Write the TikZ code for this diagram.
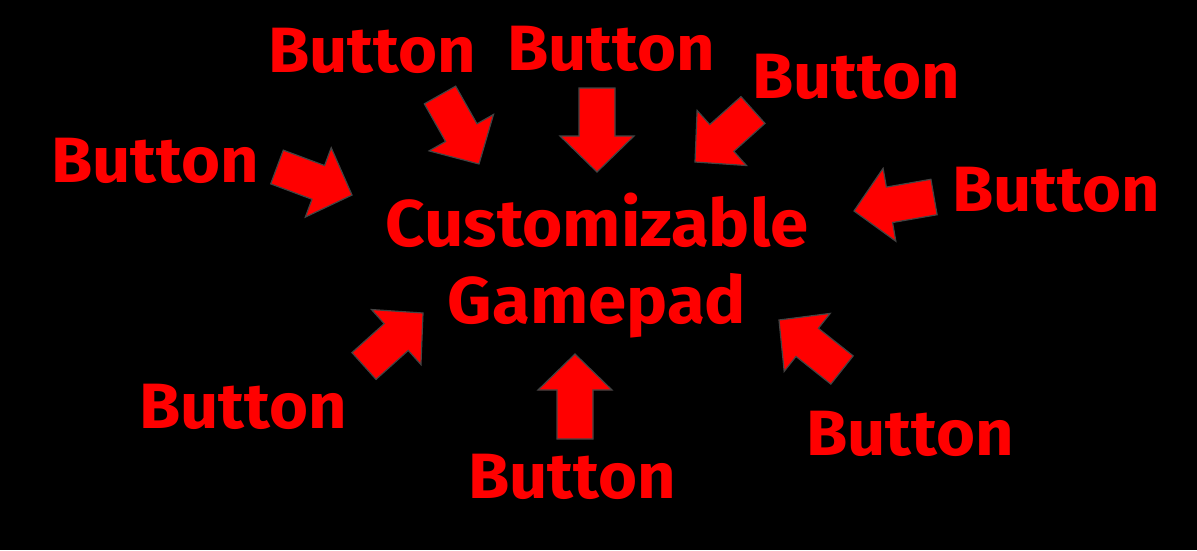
\documentclass[tikz,border=0pt]{standalone}
\usepackage{fontspec}
\setmainfont[FakeStretch=1.045]{Fira Sans}
\usetikzlibrary{calc}

% block arrow from tail coordinate #1 to tip coordinate #2
\newcommand\padarrow[2]{%
  \coordinate (#1-b) at ($(#2)!36pt!(#1)$);
  \filldraw[blockarrow] ($(#1)!18pt!90:(#2)$) -- ($(#1-b)!18pt!90:(#2)$)
    -- ($(#1-b)!37pt!90:(#2)$) -- (#2) -- ($(#1-b)!37pt!-90:(#2)$)
    -- ($(#1-b)!18pt!-90:(#2)$) -- ($(#1)!18pt!-90:(#2)$) -- cycle;}

\definecolor{padred}{HTML}{FF0000}
\definecolor{padgray}{HTML}{444444}

\begin{document}
\begin{tikzpicture}[
    x=1pt, y=-1pt,
    button/.style={text=padred, font=\fontsize{64}{70}\selectfont\bfseries, inner sep=0pt},
    title/.style={text=padred, font=\fontsize{66}{77}\selectfont\bfseries, align=center, inner sep=0pt},
    blockarrow/.style={fill=padred, draw=padgray, line width=1.2pt, line join=miter}
]
  % background
  \fill[black] (0,0) rectangle (1197,550);
  \useasboundingbox (0,0) rectangle (1197,550);

  % center text
  \node[title] (pad) at (597,266) {Customizable\\Gamepad};

  % labels
  \node[button] (b1) at (155,161) {Button};
  \node[button] (b2) at (372,51) {Button};
  \node[button] (b3) at (611,49) {Button};
  \node[button] (b4) at (856,77) {Button};
  \node[button] (b5) at (1056,190) {Button};
  \node[button] (b6) at (910,434) {Button};
  \node[button] (b7) at (572,477) {Button};
  \node[button] (b8) at (243,407) {Button};

  % arrow tails and tips
  \coordinate (t1) at (277,167);  \coordinate (h1) at (352,195);
  \coordinate (t2) at (440,95);   \coordinate (h2) at (479,164);
  \coordinate (t3) at (597,88);   \coordinate (h3) at (597,172);
  \coordinate (t4) at (753,110);  \coordinate (h4) at (695,162);
  \coordinate (t5) at (934,197);  \coordinate (h5) at (854,211);
  \coordinate (t6) at (842,370);  \coordinate (h6) at (779,320);
  \coordinate (t7) at (575,439);  \coordinate (h7) at (575,354);
  \coordinate (t8) at (364,366);  \coordinate (h8) at (423,313);

  % arrows
  \foreach \i in {1,...,8} {
    \padarrow{t\i}{h\i}
  }
\end{tikzpicture}
\end{document}
